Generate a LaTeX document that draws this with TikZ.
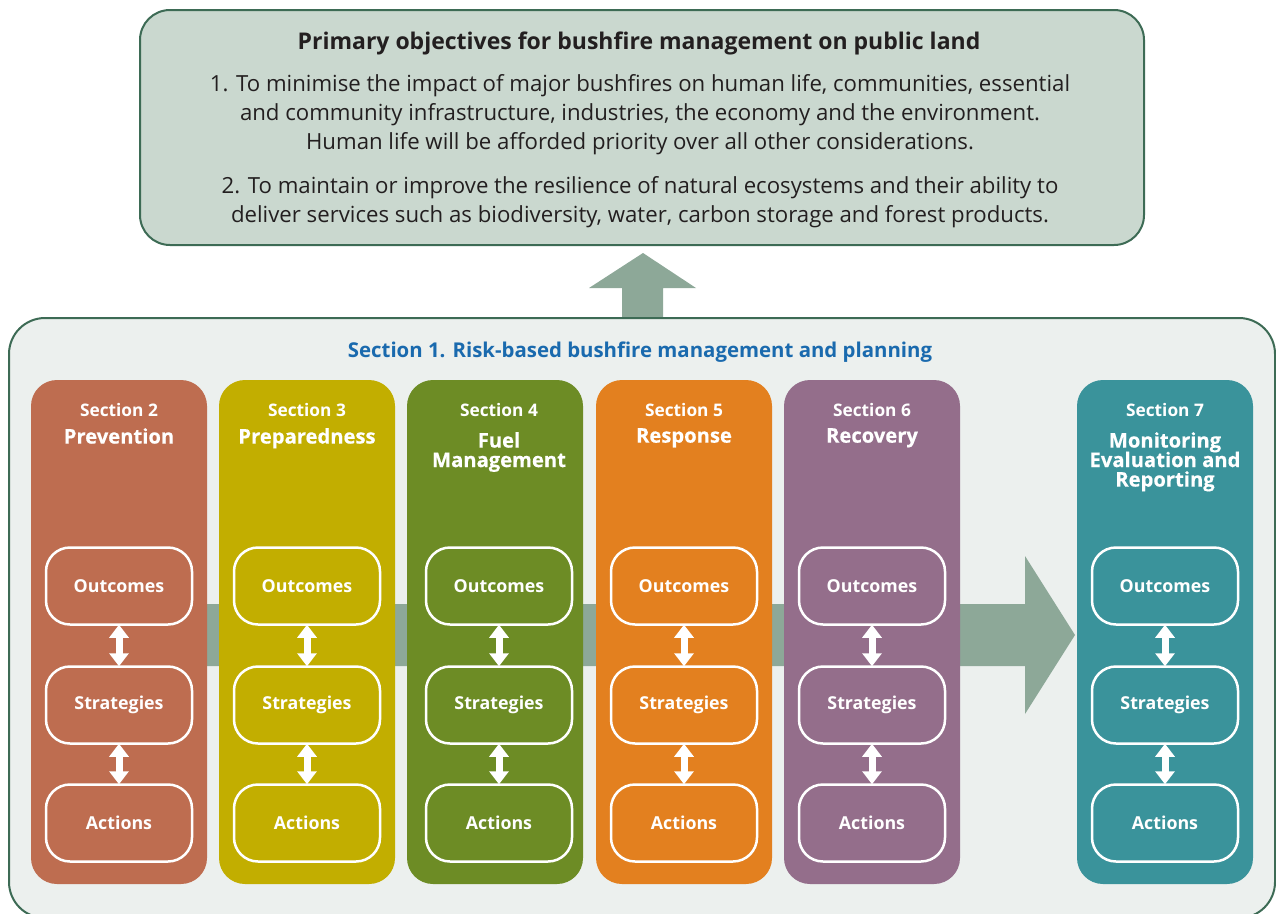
\documentclass[tikz,border=0pt]{standalone}
\usepackage{fontspec}
\setmainfont{Open Sans}[BoldFeatures={FakeBold=0.4}]
\newfontfamily\plainbold{Open Sans}
\newcommand\tightlines{\lineskiplimit=-30pt\relax}
\usetikzlibrary{arrows.meta}
\definecolor{framegreen}{HTML}{3D6B55}
\definecolor{topfill}{HTML}{CAD8CF}
\definecolor{bigfill}{HTML}{ECF0EE}
\definecolor{arrowgreen}{HTML}{8DA898}
\definecolor{titleblue}{HTML}{1A6AAE}
\definecolor{txtdark}{HTML}{231F20}
\definecolor{colA}{HTML}{BE6D50}
\definecolor{colB}{HTML}{C2AE00}
\definecolor{colC}{HTML}{6D8C25}
\definecolor{colD}{HTML}{E3801F}
\definecolor{colE}{HTML}{946E8B}
\definecolor{colF}{HTML}{3A939B}
\tikzset{
  colbox/.style={rounded corners=26pt, minimum width=176pt, minimum height=504pt, inner sep=0pt, draw=none},
  inbox/.style={draw=white, line width=2.5pt, rounded corners=24pt, minimum width=146pt, minimum height=77pt, inner sep=0pt, text=white, font=\plainbold\fontsize{17.8}{20}\selectfont\bfseries},
  seclab/.style={text=white, inner sep=0pt, font=\plainbold\fontsize{17.3}{19}\selectfont\bfseries},
  namelab/.style={text=white, inner sep=0pt, anchor=north, align=center, font=\fontsize{20.2}{19.5}\selectfont\bfseries\tightlines},
  dblarr/.style={draw=white, line width=7pt, {Triangle[width=19pt,length=13pt]}-{Triangle[width=19pt,length=13pt]}, shorten <=-1pt, shorten >=-1pt},
  bodytxt/.style={text=txtdark, align=center, inner sep=0pt, font=\fontsize{22.2}{29}\selectfont},
}
\begin{document}
\begin{tikzpicture}[x=1pt,y=-1pt]
\useasboundingbox (0,0) rectangle (1276,913);
% top objectives box
\node[draw=framegreen, line width=2pt, fill=topfill, rounded corners=30pt, minimum width=1004pt, minimum height=235pt, inner sep=0pt] (obj) at (642,127.5) {};
\node[text=txtdark, inner sep=0pt, font=\plainbold\fontsize{23}{26}\selectfont\bfseries] (objtitle) at (639,43) {Primary objectives for bushfire management on public land};
\node[bodytxt] (obj1) at (640,115) {1. To minimise the impact of major bushfires on human life, communities, essential\\and community infrastructure, industries, the economy and the environment.\\Human life will be afforded priority over all other considerations.};
\node[bodytxt] (obj2) at (640,202.5) {2. To maintain or improve the resilience of natural ecosystems and their ability to\\deliver services such as biodiversity, water, carbon storage and forest products.};
% up arrow
\fill[arrowgreen] (622,318) -- (622,288) -- (589,288) -- (643,253) -- (696,288) -- (663,288) -- (663,318) -- cycle;
% big frame
\node[draw=framegreen, line width=2pt, fill=bigfill, rounded corners=36pt, minimum width=1266pt, minimum height=600pt, inner sep=0pt] (frame) at (642,618) {};
\node[text=titleblue, inner sep=0pt, font=\plainbold\fontsize{20.4}{23}\selectfont\bfseries] (s1) at (640,352) {Section 1. Risk-based bushfire management and planning};
% horizontal arrow
\fill[arrowgreen] (100,604) -- (1025,604) -- (1025,556) -- (1075,635) -- (1025,714) -- (1025,666) -- (100,666) -- cycle;
% columns
\node[colbox, fill=colA] (c2) at (119,632) {};
\node[colbox, fill=colB] (c3) at (307,632) {};
\node[colbox, fill=colC] (c4) at (495,632) {};
\node[colbox, fill=colD] (c5) at (684,632) {};
\node[colbox, fill=colE] (c6) at (872,632) {};
\node[colbox, fill=colF] (c7) at (1165,632) {};
% headers
\node[seclab] (h2) at (119,410) {Section 2};
\node[seclab] (h3) at (307,410) {Section 3};
\node[seclab] (h4) at (499,410) {Section 4};
\node[seclab] (h5) at (684,410) {Section 5};
\node[seclab] (h6) at (872,410) {Section 6};
\node[seclab] (h7) at (1165,410) {Section 7};
\node[namelab] (n2) at (119,428) {Prevention};
\node[namelab] (n3) at (307,428) {Preparedness};
\node[namelab] (n4) at (499,432) {Fuel\\Management};
\node[namelab] (n5) at (684,428) {Response};
\node[namelab] (n6) at (872,428) {Recovery};
\node[namelab] (n7) at (1165,432) {Monitoring\\Evaluation and\\Reporting};
% inner boxes
\foreach \c/\x in {2/119,3/307,4/499,5/684,6/872,7/1165}{
  \node[inbox] (o\c) at (\x,586) {Outcomes};
  \node[inbox] (s\c) at (\x,705) {Strategies};
  \node[inbox] (a\c) at (\x,823) {Actions};
  \draw[dblarr] (o\c.south) -- (s\c.north);
  \draw[dblarr] (s\c.south) -- (a\c.north);
}
\end{tikzpicture}
\end{document}
